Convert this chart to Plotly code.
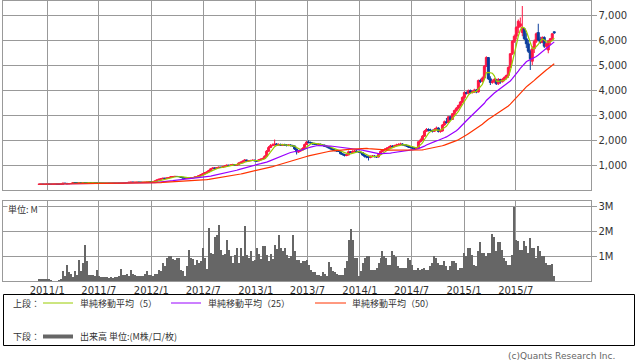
import pandas as pd
import plotly.graph_objects as go

# ---------------- data (weekly, from 2010-12-03) ----------------
START_DATE = "2010-12-03"

OPEN = [
    228,230,232,228,230,235,230,228,230,232,
    230,228,230,270,265,250,255,260,300,290,
    285,290,288,292,290,288,290,286,290,288,
    285,275,272,270,268,270,268,270,272,268,
    270,268,270,272,300,295,310,312,308,310,
    312,310,308,310,312,320,330,318,325,360,
    400,430,450,470,465,480,500,530,540,545,
    540,535,510,480,470,475,480,490,500,520,
    540,580,610,650,690,720,780,850,880,870,
    890,910,900,930,960,990,980,1000,1020,990,
    1010,1080,1110,1150,1200,1160,1170,1180,1190,1170,
    1160,1200,1230,1260,1350,1550,1700,1780,1800,1840,
    1800,1820,1790,1810,1800,1780,1800,1780,1760,1640,
    1520,1560,1600,1660,1820,1920,1900,1880,1850,1830,
    1820,1830,1800,1790,1750,1730,1690,1650,1610,1580,
    1560,1550,1450,1420,1380,1400,1530,1500,1540,1560,
    1540,1520,1500,1400,1350,1320,1300,1340,1360,1340,
    1320,1420,1540,1600,1620,1660,1700,1760,1740,1770,
    1800,1820,1840,1810,1790,1760,1720,1700,1680,1670,
    1680,1930,2000,2150,2350,2420,2400,2380,2350,2420,
    2480,2340,2360,2600,2730,2700,2930,2820,3050,3180,
    3270,3380,3520,3700,3900,3870,3980,3900,3930,4000,
    3920,4380,4350,4480,4950,5300,4450,4300,4350,4420,
    4250,4420,4330,4420,4500,4580,4900,5450,5950,6150,
    6500,6550,6300,6450,6050,5850,5550,5150,5650,5950,
    6300,6000,5900,6100,5750,5600,5950,6050,6330,
]

HIGH = [
    234,236,235,233,240,238,233,234,236,235,
    233,234,285,278,268,262,266,310,305,296,
    295,294,298,296,294,295,294,295,294,292,
    288,280,276,274,275,274,275,277,276,275,
    274,275,278,310,306,316,318,316,316,318,
    316,315,316,318,328,340,334,332,370,412,
    445,462,485,482,492,515,545,556,560,558,
    552,542,515,488,486,492,502,512,535,555,
    598,628,672,712,745,810,880,912,905,920,
    940,935,960,990,1020,1015,1030,1050,1040,1040,
    1110,1140,1185,1240,1215,1200,1210,1225,1215,1195,
    1230,1260,1295,1390,1600,1760,1840,1860,2020,1880,
    1870,1860,1850,1850,1840,1840,1830,1810,1780,1660,
    1600,1650,1710,1860,1960,1990,1940,1910,1890,1870,
    1870,1860,1840,1820,1790,1760,1720,1680,1640,1620,
    1600,1570,1480,1450,1440,1580,1560,1590,1600,1590,
    1570,1550,1520,1430,1380,1350,1380,1400,1390,1370,
    1460,1580,1640,1670,1710,1750,1800,1790,1810,1850,
    1870,1890,1870,1840,1820,1790,1750,1730,1720,1720,
    1960,2060,2200,2400,2480,2470,2450,2420,2480,2540,
    2510,2420,2640,2780,2880,2960,2960,3080,3220,3320,
    3420,3560,3750,3940,3940,4020,4020,3990,4050,4040,
    4420,4450,4540,5000,5350,5320,4550,4420,4480,4450,
    4480,4450,4480,4550,4620,4950,5480,6000,6220,6550,
    6820,6900,7360,6480,6280,6000,5620,5750,6020,6300,
    6650,6130,6150,6150,5900,6000,6080,6280,6340,
]

LOW = [
    225,227,224,225,228,226,224,225,228,226,
    224,225,228,255,240,245,250,255,282,280,
    280,283,284,285,283,284,281,282,283,280,
    270,268,265,264,264,263,264,266,264,264,
    263,264,266,270,288,292,305,302,303,305,
    304,302,303,305,308,315,312,314,320,355,
    392,424,444,455,458,474,494,522,530,528,
    524,500,470,458,462,466,472,482,492,512,
    532,570,600,640,678,710,770,835,850,855,
    875,880,885,915,945,960,965,985,975,975,
    1000,1065,1095,1135,1140,1140,1150,1160,1150,1135,
    1150,1185,1215,1250,1340,1530,1680,1750,1770,1760,
    1770,1760,1760,1760,1740,1750,1740,1720,1600,1420,
    1480,1530,1580,1640,1800,1860,1840,1810,1800,1790,
    1790,1770,1760,1720,1700,1660,1620,1580,1550,1530,
    1520,1420,1380,1340,1350,1390,1470,1480,1510,1510,
    1490,1460,1370,1300,1270,1180,1270,1310,1300,1280,
    1300,1400,1510,1570,1590,1630,1680,1700,1710,1740,
    1770,1790,1780,1750,1720,1690,1660,1640,1630,1640,
    1670,1900,1980,2120,2320,2340,2330,2300,2320,2390,
    2300,2290,2340,2570,2650,2680,2780,2800,3000,3130,
    3220,3330,3470,3650,3820,3820,3850,3860,3880,3870,
    3900,4280,4300,4450,4920,4400,4200,4250,4270,4200,
    4200,4250,4300,4350,4420,4480,4880,5400,5880,6020,
    6280,6500,6150,6000,5680,5480,4800,5000,5480,5880,
    5950,5850,5870,5680,5620,5470,5800,6000,6250,
]

CLOSE = [
    230,232,228,230,235,230,228,230,232,230,
    228,230,270,265,250,255,260,300,290,285,
    290,288,292,290,288,290,286,290,288,285,
    275,272,270,268,270,268,270,272,268,270,
    268,270,272,300,295,310,312,308,310,312,
    310,308,310,312,320,330,318,325,360,400,
    430,450,470,465,480,500,530,540,545,540,
    535,510,480,470,475,480,490,500,520,540,
    580,610,650,690,720,780,850,880,870,890,
    910,900,930,960,990,980,1000,1020,990,1010,
    1080,1110,1150,1200,1160,1170,1180,1190,1170,1160,
    1200,1230,1260,1350,1550,1700,1780,1800,1840,1800,
    1820,1790,1810,1800,1780,1800,1780,1760,1640,1520,
    1560,1600,1660,1820,1920,1900,1880,1850,1830,1820,
    1830,1800,1790,1750,1730,1690,1650,1610,1580,1560,
    1550,1450,1420,1380,1400,1530,1500,1540,1560,1540,
    1520,1500,1400,1350,1320,1300,1340,1360,1340,1320,
    1420,1540,1600,1620,1660,1700,1760,1740,1770,1800,
    1820,1840,1810,1790,1760,1720,1700,1680,1670,1680,
    1930,2000,2150,2350,2420,2400,2380,2350,2420,2480,
    2340,2360,2600,2730,2700,2930,2820,3050,3180,3270,
    3380,3520,3700,3900,3870,3980,3900,3930,4000,3920,
    4380,4350,4480,4950,5300,4450,4300,4350,4420,4250,
    4420,4330,4420,4500,4580,4900,5450,5950,6150,6500,
    6750,6650,6500,6050,5850,5550,5250,5650,5950,6250,
    6000,5900,6100,5750,5850,5950,6050,6250,6290,
]

# volume in millions of shares
VOLUME_M = [
    0.08,0.10,0.08,0.10,0.09,0.08,0.05,0.02,0.01,0.02,
    0.03,0.10,0.40,0.20,0.66,0.35,0.30,0.15,0.40,0.25,
    0.86,0.40,0.73,1.46,0.80,0.23,0.25,0.25,0.20,0.46,
    0.20,0.15,0.18,0.15,0.15,0.12,0.15,0.14,0.15,0.16,
    0.20,0.50,0.25,0.25,0.28,0.22,0.46,0.30,0.25,0.20,
    0.20,0.22,0.20,0.30,0.40,0.25,0.25,0.22,0.30,0.30,
    0.46,0.40,0.73,0.60,0.93,1.00,1.00,0.89,0.85,0.93,
    0.93,0.46,0.40,0.20,0.60,1.26,0.93,0.90,0.66,0.86,
    0.73,0.80,1.33,0.93,0.50,2.13,1.13,1.10,1.79,1.86,
    2.26,1.26,1.06,1.10,1.66,1.26,1.00,0.73,1.06,1.33,
    0.73,1.33,1.00,2.20,1.06,0.93,1.20,0.80,0.85,1.33,
    1.10,0.90,1.40,1.40,1.06,0.80,1.10,0.90,1.46,1.30,
    1.86,1.33,1.20,1.33,1.06,0.93,1.00,1.86,1.19,0.86,
    0.86,0.73,0.79,0.79,0.86,0.66,0.46,0.35,0.35,0.26,
    0.26,0.20,0.35,0.30,0.20,0.75,0.55,0.39,0.35,0.30,
    0.26,0.26,0.26,0.53,0.79,1.66,2.10,1.66,0.93,0.93,
    0.19,0.39,0.73,0.93,1.00,1.00,0.46,0.46,0.46,0.53,
    0.73,0.93,1.19,1.00,0.93,0.66,0.66,1.19,1.06,0.97,
    0.60,0.53,0.53,0.53,0.53,0.93,0.86,0.66,0.46,0.46,
    0.53,0.46,0.50,0.53,0.46,0.46,0.60,0.73,1.00,0.93,
    0.73,0.66,0.66,0.79,0.60,0.46,0.60,0.79,0.79,0.73,
    0.46,0.53,0.53,1.13,1.00,1.33,1.33,1.06,0.66,0.62,
    1.19,1.59,1.13,1.13,1.00,1.13,1.13,1.90,1.79,1.19,
    1.59,1.59,1.26,0.93,0.79,0.66,0.66,1.06,2.97,1.66,
    1.60,1.26,1.26,1.60,1.40,1.13,1.73,1.33,1.33,0.93,
    1.40,1.19,1.00,1.00,0.73,0.66,0.66,0.70,0.19,
]

MA_PERIODS = [5, 25, 50]
MA_NAMES = ["単純移動平均（5）", "単純移動平均（25）", "単純移動平均（50）"]

X_TICK_DATES = ["2011-01-01", "2011-07-01", "2012-01-01", "2012-07-01", "2013-01-01",
                "2013-07-01", "2014-01-01", "2014-07-01", "2015-01-01", "2015-07-01"]
X_TICK_TEXT = ["2011/1", "2011/7", "2012/1", "2012/7", "2013/1",
               "2013/7", "2014/1", "2014/7", "2015/1", "2015/7"]
PRICE_TICKS = [1000, 2000, 3000, 4000, 5000, 6000, 7000]
PRICE_TICK_TEXT = ["1,000", "2,000", "3,000", "4,000", "5,000", "6,000", "7,000"]
VOL_TICKS = [1, 2, 3]
VOL_TICK_TEXT = ["1M", "2M", "3M"]

# ---------------- styles ----------------
W, H = 638, 362
UP = "#ff1744"
DOWN = "#0a3d9c"
MA_COLORS = ["#99cc00", "#9900ff", "#ff3300"]
VOL_COLOR = "#666666"
GRID = "#999999"
TXT = "#333333"
TICK_FONT = dict(family="DejaVu Sans", size=10, color=TXT)
JP_FONT = dict(family="Noto Sans CJK JP", size=9, color=TXT)

def px(x):
    return x / W

def py(y):
    return 1 - y / H

dates = pd.date_range(START_DATE, periods=len(CLOSE), freq="7D")
closes = pd.Series(CLOSE, dtype=float)

fig = go.Figure()
fig.add_trace(go.Candlestick(
    x=dates, open=OPEN, high=HIGH, low=LOW, close=CLOSE,
    increasing=dict(line=dict(color=UP, width=1), fillcolor=UP),
    decreasing=dict(line=dict(color=DOWN, width=1), fillcolor=DOWN),
    whiskerwidth=0, xaxis="x", yaxis="y", hoverinfo="skip",
))
for n, c, name in zip(MA_PERIODS, MA_COLORS, MA_NAMES):
    fig.add_trace(go.Scatter(
        x=dates, y=closes.rolling(n, min_periods=1).mean(), mode="lines",
        line=dict(color=c, width=1.2), name=name, xaxis="x", yaxis="y", hoverinfo="skip",
    ))
fig.add_trace(go.Bar(
    x=dates, y=VOLUME_M, marker=dict(color=VOL_COLOR, line=dict(width=0)),
    xaxis="x2", yaxis="y2", hoverinfo="skip",
))

XR = ["2010-07-30", "2016-03-19"]
XDOM = [px(3), px(590.5)]
common_x = dict(type="date", range=XR, domain=XDOM, tickvals=X_TICK_DATES, ticktext=X_TICK_TEXT,
                showgrid=True, gridcolor=GRID, gridwidth=1, showline=True, mirror=True,
                linecolor=GRID, linewidth=1, zeroline=False, ticks="")
common_y = dict(side="right", showgrid=True, gridcolor=GRID, gridwidth=1, showline=True,
                mirror=True, linecolor=GRID, linewidth=1, zeroline=False, ticks="outside",
                ticklen=5, tickcolor=GRID, tickfont=TICK_FONT, fixedrange=True)

fig.update_layout(
    width=W, height=H, margin=dict(l=0, r=0, t=0, b=0),
    paper_bgcolor="white", plot_bgcolor="white", showlegend=False,
    bargap=0, boxgap=0.0, boxgroupgap=0.0,
    xaxis=dict(common_x, anchor="y", showticklabels=False, rangeslider=dict(visible=False)),
    yaxis=dict(common_y, anchor="x", domain=[py(190), py(0.5)], range=[0, 7580],
               tickvals=PRICE_TICKS, ticktext=PRICE_TICK_TEXT),
    xaxis2=dict(common_x, anchor="y2", showticklabels=True, tickfont=TICK_FONT),
    yaxis2=dict(common_y, anchor="x2", domain=[py(281), py(201)], range=[0, 3.22],
                tickvals=VOL_TICKS, ticktext=VOL_TICK_TEXT),
)

shapes = []
ann = []
# legend box
shapes.append(dict(type="rect", xref="paper", yref="paper", x0=px(3.5), x1=px(634.5),
                   y0=py(345.5), y1=py(294.5), line=dict(color="#000000", width=1)))
ann.append(dict(text="上段：", x=px(11), y=py(303), xanchor="left", yanchor="middle",
                showarrow=False, xref="paper", yref="paper", font=JP_FONT))
ann.append(dict(text="下段：", x=px(11), y=py(336.5), xanchor="left", yanchor="middle",
                showarrow=False, xref="paper", yref="paper", font=JP_FONT))
leg_x = [(43, 73, 78), (171, 201, 206), (315, 346, 350)]
for (a, b, t), c, name in zip(leg_x, MA_COLORS, MA_NAMES):
    shapes.append(dict(type="line", xref="paper", yref="paper", x0=px(a), x1=px(b),
                       y0=py(303), y1=py(303), line=dict(color=c, width=1)))
    ann.append(dict(text=name, x=px(t), y=py(303), xanchor="left", yanchor="middle",
                    showarrow=False, xref="paper", yref="paper", font=JP_FONT))
shapes.append(dict(type="line", xref="paper", yref="paper", x0=px(43), x1=px(73),
                   y0=py(336.5), y1=py(336.5), line=dict(color=VOL_COLOR, width=4)))
ann.append(dict(text="出来高 単位:(M株/口/枚)", x=px(78), y=py(336.5), xanchor="left",
                yanchor="middle", showarrow=False, xref="paper", yref="paper", font=JP_FONT))
ann.append(dict(text="単位: M", x=px(7), y=py(209), xanchor="left", yanchor="middle",
                showarrow=False, xref="paper", yref="paper", font=JP_FONT,
                bgcolor="white", borderpad=0))
ann.append(dict(text="(c)Quants Research Inc.", x=px(617), y=py(356), xanchor="right",
                yanchor="middle", showarrow=False, xref="paper", yref="paper",
                font=dict(family="DejaVu Sans", size=9, color="#666666")))

fig.update_layout(shapes=shapes, annotations=ann)
fig.write_html("out.html", config={"displayModeBar": False, "staticPlot": True},
               post_script="document.body.style.margin='0px';"
                           "document.body.style.overflow='hidden';")
